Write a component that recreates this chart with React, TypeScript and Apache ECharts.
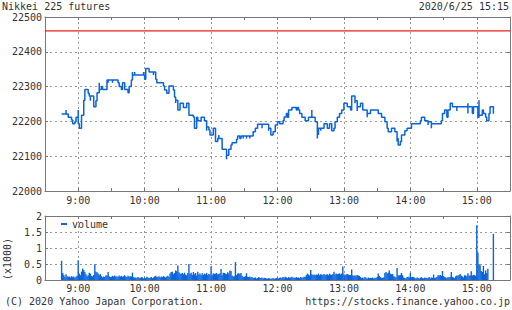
import React, { useEffect, useRef } from "react";
import * as echarts from "echarts";

const TITLE = "Nikkei 225 futures";
const STAMP = "2020/6/25 15:15";
const COPYRIGHT = "(C) 2020 Yahoo Japan Corporation.";
const URL_TEXT = "https://stocks.finance.yahoo.co.jp";
const VOL_UNIT = "(x1000)";
const LEGEND_NAME = "volume";

const PRICE_MIN = 22000;
const PRICE_MAX = 22500;
const PRICE_STEP = 100;
const REF_PRICE = 22460;
const VOL_MAX = 2000;
const VOL_STEP = 500;

// categories: one per minute from 8:30 to 15:30
const SPAN_MIN = 420;
const CATEGORIES: string[] = [];
for (let i = 0; i <= SPAN_MIN; i++) {
  const t = 8 * 60 + 30 + i;
  CATEGORIES.push(`${Math.floor(t / 60)}:${String(t % 60).padStart(2, "0")}`);
}

// price path: [minutes after 8:30, price] (step line)
const PRICE: [number, number][] = [
  [15, 22221], [19, 22233], [19, 22221], [21, 22212], [24, 22204], [25, 22193], [27, 22199], [28, 22212],
  [30, 22233], [30, 22193], [31, 22180], [33, 22204], [33, 22218], [35, 22261], [36, 22292], [39, 22281],
  [40, 22273], [41, 22259], [41, 22273], [44, 22242], [46, 22259], [47, 22282], [49, 22311], [49, 22292],
  [51, 22300], [52, 22292], [56, 22319], [57, 22311], [57, 22319], [61, 22311], [61, 22319], [66, 22311],
  [67, 22300], [69, 22292], [70, 22311], [72, 22292], [75, 22282], [76, 22300], [78, 22319], [79, 22342],
  [79, 22333], [81, 22342], [81, 22333], [89, 22342], [89, 22333], [90, 22321], [91, 22352], [94, 22342],
  [98, 22333], [98, 22342], [100, 22321], [101, 22311], [107, 22302], [108, 22290], [110, 22281], [112, 22302],
  [116, 22290], [117, 22270], [118, 22253], [118, 22261], [120, 22233], [122, 22252], [125, 22240], [128, 22252],
  [130, 22218], [134, 22213], [135, 22180], [137, 22212], [138, 22202], [141, 22212], [144, 22202], [146, 22173],
  [146, 22184], [148, 22175], [149, 22161], [152, 22180], [154, 22142], [156, 22151], [157, 22161], [157, 22151],
  [160, 22120], [164, 22091], [164, 22103], [166, 22120], [168, 22132], [169, 22139], [173, 22149], [174, 22158],
  [176, 22151], [177, 22158], [179, 22151], [179, 22158], [182, 22151], [182, 22158], [185, 22151], [185, 22158],
  [188, 22170], [190, 22180], [192, 22192], [196, 22180], [196, 22192], [202, 22173], [202, 22180], [204, 22161],
  [206, 22170], [208, 22190], [210, 22199], [212, 22193], [215, 22202], [216, 22213], [218, 22223], [219, 22212],
  [220, 22233], [223, 22240], [227, 22233], [228, 22240], [229, 22233], [230, 22223], [232, 22212], [235, 22202],
  [238, 22212], [241, 22233], [241, 22212], [244, 22199], [246, 22151], [246, 22180], [247, 22161], [247, 22180],
  [249, 22173], [249, 22180], [252, 22193], [255, 22180], [257, 22193], [259, 22173], [261, 22180], [262, 22199],
  [264, 22212], [266, 22223], [268, 22233], [270, 22252], [273, 22242], [276, 22233], [277, 22273], [280, 22252],
  [280, 22259], [282, 22230], [282, 22242], [285, 22252], [287, 22233], [291, 22212], [291, 22223], [294, 22233],
  [301, 22223], [304, 22212], [307, 22199], [309, 22180], [310, 22170], [313, 22180], [316, 22170], [318, 22142],
  [318, 22151], [319, 22132], [321, 22142], [322, 22161], [325, 22173], [327, 22180], [331, 22180], [331, 22193],
  [339, 22193], [339, 22202], [340, 22212], [343, 22202], [346, 22190], [346, 22199], [349, 22180], [349, 22193],
  [358, 22202], [359, 22223], [361, 22233], [363, 22212], [364, 22233], [366, 22252], [368, 22242], [372, 22230],
  [372, 22242], [382, 22252], [382, 22223], [382, 22242], [386, 22223], [387, 22242], [391, 22212], [392, 22261],
  [392, 22218], [395, 22233], [396, 22223], [398, 22212], [399, 22202], [401, 22223], [402, 22242], [405, 22242],
  [405, 22222],
];

// per-minute volume (contracts), starting at 8:45 (minute 15 after 8:30)
const VOL_START = 15;
const VOLUME: number[] = [
  600, 220, 160, 90, 180, 120, 100, 110, 80, 120,
  90, 110, 70, 100, 130, 620, 200, 150, 260, 360,
  310, 250, 180, 120, 150, 230, 200, 130, 110, 160,
  490, 260, 240, 200, 150, 190, 120, 80, 110, 90,
  140, 150, 250, 120, 90, 100, 130, 110, 140, 100,
  120, 90, 140, 110, 130, 100, 120, 150, 110, 90,
  130, 100, 120, 110, 230, 90, 70, 80, 60, 90,
  70, 60, 90, 80, 50, 70, 60, 100, 80, 60,
  70, 90, 60, 80, 110, 130, 90, 100, 120, 80,
  110, 90, 120, 100, 80, 110, 130, 90, 200, 250,
  260, 180, 220, 300, 270, 450, 240, 200, 190, 220,
  180, 230, 170, 150, 220, 500, 190, 230, 160, 250,
  180, 220, 140, 260, 170, 200, 150, 210, 160, 200,
  180, 220, 160, 190, 170, 420, 150, 210, 190, 200,
  220, 170, 190, 210, 340, 150, 230, 220, 200, 180,
  240, 200, 300, 280, 140, 110, 120, 560, 150, 200,
  210, 190, 220, 130, 100, 90, 120, 210, 100, 90,
  110, 80, 90, 60, 70, 80, 50, 60, 90, 70,
  60, 80, 50, 70, 60, 50, 40, 60, 50, 40,
  50, 60, 40, 50, 60, 40, 50, 70, 80, 60,
  90, 70, 100, 80, 60, 90, 70, 80, 100, 70,
  80, 60, 90, 70, 80, 60, 90, 70, 80, 100,
  90, 150, 200, 170, 140, 310, 180, 160, 170, 150,
  170, 160, 200, 150, 180, 170, 160, 190, 150, 170,
  180, 150, 200, 170, 160, 190, 260, 170, 200, 180,
  190, 210, 170, 200, 420, 180, 160, 170, 190, 170,
  150, 160, 330, 140, 130, 150, 120, 160, 140, 130,
  90, 60, 80, 50, 90, 70, 40, 80, 60, 70,
  60, 80, 50, 70, 60, 90, 200, 130, 90, 60,
  70, 80, 220, 250, 200, 230, 300, 200, 180, 190,
  120, 100, 80, 375, 150, 140, 160, 220, 150, 80,
  60, 50, 90, 100, 80, 220, 90, 100, 90, 70,
  50, 80, 60, 40, 70, 90, 60, 50, 80, 60,
  70, 60, 90, 50, 80, 70, 170, 60, 80, 90,
  150, 140, 160, 130, 280, 120, 90, 80, 60, 90,
  80, 90, 250, 100, 80, 60, 120, 140, 130, 160,
  190, 130, 110, 80, 150, 140, 120, 210, 130, 150,
  270, 140, 160, 150, 130, 1710, 850, 500, 460, 280,
  250, 440, 180, 300, 220, 350, 0, 0, 0, 0,
  1440,
];

const BLUE = "#0a64dc";
const RED = "#ee1c1c";
const TEXT = "#333";
const FRAME = "#777";
const FONT = "'DejaVu Sans Mono', monospace";

export default function App() {
  const ref = useRef<HTMLDivElement>(null);
  useEffect(() => {
    if (!ref.current) return;
    const chart = echarts.init(ref.current, null, { renderer: "svg" });
    const frame = { color: FRAME, width: 1 };
    const dashed = { color: "#999", type: [2, 3] as any, width: 1 };
    const tickEvery30 = (i: number) => i % 30 === 0;
    const onHour = (i: number) => i % 60 === 30;
    const xAxis = (grid: number, position: string, labels: boolean, margin: number) => ({
      type: "category",
      gridIndex: grid,
      position,
      data: CATEGORIES,
      boundaryGap: false,
      axisLine: { show: true, onZero: false, lineStyle: frame },
      axisTick: { show: true, inside: true, length: 3, interval: tickEvery30, lineStyle: frame },
      axisLabel: {
        show: labels,
        interval: onHour,
        color: TEXT,
        fontFamily: FONT,
        fontSize: 10,
        margin,
      },
      splitLine: { show: labels, interval: onHour, lineStyle: dashed },
    });
    const yAxis = (
      grid: number,
      position: string,
      min: number,
      max: number,
      interval: number,
      labels: boolean,
      fmt: (v: number) => string
    ) => ({
      type: "value",
      gridIndex: grid,
      position,
      min,
      max,
      interval,
      axisLine: { show: true, lineStyle: frame },
      axisTick: { show: true, inside: true, length: 3, lineStyle: frame },
      axisLabel: {
        show: labels,
        color: TEXT,
        fontFamily: FONT,
        fontSize: 10,
        margin: 3,
        formatter: fmt,
      },
      splitLine: { show: labels, showMinLine: false, showMaxLine: false, lineStyle: dashed },
    });
    const volData: [number, number][] = VOLUME.map((v, i) => [VOL_START + i, v]);
    const refData: [number, number][] = [
      [0, REF_PRICE],
      [SPAN_MIN, REF_PRICE],
    ];
    const titleStyle = { color: TEXT, fontFamily: FONT, fontSize: 10, fontWeight: "normal" as const };
    const plain = (v: number) => String(v);
    const thousands = (v: number) => String(v / 1000);
    chart.setOption({
      animation: false,
      title: [
        { text: TITLE, left: 2, top: 1, padding: 0, textStyle: titleStyle },
        { text: STAMP, right: 3, top: 1, padding: 0, textStyle: titleStyle },
        { text: COPYRIGHT, left: 5, top: 296, padding: 0, textStyle: titleStyle },
        { text: URL_TEXT, right: 2, top: 296, padding: 0, textStyle: titleStyle },
      ],
      legend: {
        data: [LEGEND_NAME],
        left: 61,
        top: 219,
        padding: 0,
        icon: "rect",
        itemWidth: 6,
        itemHeight: 2,
        textStyle: { color: TEXT, fontFamily: FONT, fontSize: 10 },
      },
      graphic: [
        {
          type: "text",
          x: 7,
          y: 259,
          rotation: Math.PI / 2,
          style: {
            text: VOL_UNIT,
            fill: TEXT,
            font: `10px ${FONT}`,
            align: "center",
            verticalAlign: "middle",
            textAlign: "center",
            textVerticalAlign: "middle",
          },
        },
      ],
      grid: [
        { left: 45, top: 17, width: 465, height: 174 },
        { left: 45, top: 216, width: 465, height: 64 },
      ],
      xAxis: [
        xAxis(0, "bottom", true, 4),
        xAxis(0, "top", false, 4),
        xAxis(1, "bottom", true, 3),
        xAxis(1, "top", false, 3),
      ],
      yAxis: [
        yAxis(0, "left", PRICE_MIN, PRICE_MAX, PRICE_STEP, true, plain),
        yAxis(0, "right", PRICE_MIN, PRICE_MAX, PRICE_STEP, false, plain),
        yAxis(1, "left", 0, VOL_MAX, VOL_STEP, true, thousands),
        yAxis(1, "right", 0, VOL_MAX, VOL_STEP, false, thousands),
      ],
      series: [
        {
          type: "line",
          name: "reference",
          xAxisIndex: 0,
          yAxisIndex: 0,
          data: refData,
          showSymbol: false,
          symbol: "none",
          silent: true,
          lineStyle: { color: RED, width: 1.3 },
          itemStyle: { color: RED },
          z: 3,
        },
        {
          type: "line",
          name: "price",
          xAxisIndex: 0,
          yAxisIndex: 0,
          data: PRICE,
          step: "end",
          showSymbol: false,
          symbol: "none",
          lineStyle: { color: BLUE, width: 1.5 },
          itemStyle: { color: BLUE },
          z: 4,
        },
        {
          type: "bar",
          name: LEGEND_NAME,
          xAxisIndex: 2,
          yAxisIndex: 2,
          data: volData,
          barWidth: 1.4,
          itemStyle: { color: BLUE },
        },
      ],
    });
    return () => chart.dispose();
  }, []);
  return (
    <div
      ref={ref}
      style={{ position: "absolute", left: 0, top: 0, width: 512, height: 310, background: "#fff" }}
    />
  );
}
